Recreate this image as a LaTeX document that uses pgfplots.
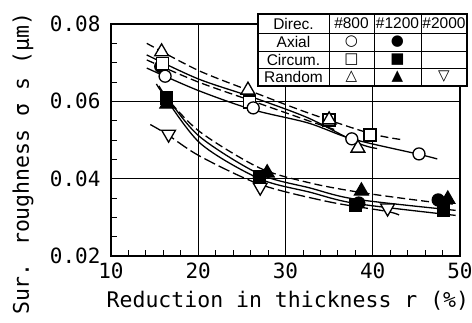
\documentclass[border=0pt]{standalone}
\usepackage{pgfplots}
\pgfplotsset{compat=1.18}
\usepackage{fontspec}
\setmainfont{DejaVu Sans Mono}
\newfontfamily\legfont{Liberation Sans}
\newfontfamily\symfont{DejaVu Sans}
\begin{document}
\begin{tikzpicture}
\begin{axis}[name=ax, width=349pt, height=232pt, scale only axis,
 xmin=10, xmax=50, ymin=0.02, ymax=0.08,
 xtick={10,20,30,40,50}, ytick={0.02,0.04,0.06,0.08},
 minor x tick num=4, minor y tick num=3,
 xtick pos=bottom, ytick pos=left,
 tick align=inside, major tick length=6pt, minor tick length=6pt,
 grid=major, major grid style={black, line width=0.8pt},
 axis line style={line width=1.3pt},
 every tick/.style={black, line width=0.8pt},
 scaled y ticks=false,
 yticklabel style={/pgf/number format/fixed, /pgf/number format/precision=2, /pgf/number format/fixed zerofill},
 /pgf/number format/assume math mode=true,
 tick label style={font=\fontsize{21}{24}\selectfont},
 xticklabel style={yshift=-3pt},
 yticklabel style={xshift=-7pt},
 label style={font=\fontsize{21.5}{24}\selectfont},
 xlabel={Reduction in thickness r (\%)},
 ylabel={Sur. roughness σ s (μm)},
 xlabel style={at={(axis description cs:0.507,-0.194)}, anchor=center},
 ylabel style={at={(axis description cs:-0.252,0.397)}, anchor=center},
 every axis plot/.append style={line width=1.3pt, black},
 clip=false,
]
% fitted curves, upper group
\addplot[dashed, dash pattern=on 8pt off 4pt, smooth] coordinates {(14.1,0.0750) (20,0.0680) (26.3,0.0624) (32.6,0.0570) (39.7,0.0517) (43.3,0.0501)};
\addplot[smooth] coordinates {(14.1,0.0720) (20,0.0658) (26.3,0.0610) (32.6,0.0557) (38.3,0.0492) (40.5,0.0478)};
\addplot[dashed, dash pattern=on 8pt off 4pt, smooth] coordinates {(14.1,0.0707) (20,0.0650) (26.3,0.0600) (32.6,0.0550) (36,0.0524)};
\addplot[smooth] coordinates {(14.1,0.0686) (20,0.0628) (26.3,0.0578) (32.6,0.0544) (37.6,0.0503) (45.3,0.0463) (47.4,0.0451)};
% fitted curves, lower group
\addplot[dashed, dash pattern=on 8pt off 4pt, smooth] coordinates {(15.2,0.0645) (16.4,0.0608) (20.2,0.0521) (27,0.0428) (32.8,0.0389) (38.7,0.0364) (46.6,0.0340) (49.5,0.0334)};
\addplot[smooth] coordinates {(15.5,0.0640) (16.4,0.0610) (20.2,0.0508) (27,0.0412) (32.8,0.0376) (38,0.0347) (49.5,0.0318)};
\addplot[smooth] coordinates {(15.8,0.0625) (20.2,0.0492) (27,0.0400) (32.8,0.0365) (38,0.0336) (49.5,0.0305)};
\addplot[dash pattern=on 12pt off 4pt, smooth] coordinates {(14.5,0.0540) (16.4,0.0515) (20.2,0.0458) (27.1,0.0385) (35,0.0340) (41.7,0.0315) (43.3,0.0303)};
% data points
\addplot[only marks, mark=*, mark size=6pt, mark options={fill=black}] coordinates {(15.7,0.0690) (27.0,0.0405) (38.4,0.0337) (47.5,0.0345)};
\addplot[only marks, mark=square*, mark size=6pt, mark options={fill=white}] coordinates {(15.9,0.0697) (25.9,0.0598) (35.0,0.0552) (39.7,0.0513)};
\addplot[only marks, mark=triangle*, mark size=8pt, mark options={fill=white}] coordinates {(15.8,0.0728) (25.7,0.0629) (35.0,0.0552) (38.3,0.0479)};
\addplot[only marks, mark=*, mark size=6pt, mark options={fill=white}] coordinates {(16.2,0.0665) (26.3,0.0583) (37.6,0.0503) (45.3,0.0464)};
\addplot[only marks, mark=square*, mark size=6pt, mark options={fill=black}] coordinates {(16.4,0.0609) (27.0,0.0405) (38.0,0.0330) (48.1,0.0319)};
\addplot[only marks, mark=triangle*, mark size=8pt, mark options={fill=black}] coordinates {(16.4,0.0593) (27.9,0.0415) (38.7,0.0368) (48.6,0.0347)};
\addplot[only marks, mark=triangle*, mark size=8pt, mark options={fill=white, rotate=180}] coordinates {(16.6,0.0515) (27.1,0.0378) (41.7,0.0324)};
\end{axis}
\begin{scope}[shift={(ax.south west)}, x=1pt, y=1pt]
 \fill[white] (147,170) rectangle (356,242);
 \draw[line width=0.8pt] (147,223) -- (356,223) (147,205) -- (356,205) (147,188) -- (356,188)
   (218,170) -- (218,242) (263,170) -- (263,242) (310,170) -- (310,242);
 \draw[line width=1.6pt] (147,170) rectangle (356,242);
 \begin{scope}[every node/.style={font=\legfont\fontsize{15.5}{17}\selectfont, inner sep=0pt}]
  \node at (182.5,232.5) {Direc.};
  \node at (240.5,232.5) {\#800};
  \node at (286.5,232.5) {\#1200};
  \node at (333,232.5) {\#2000};
  \node at (182.5,214) {Axial};
  \node at (182.5,196.5) {Circum.};
  \node at (182.5,179) {Random};
 \end{scope}
 \begin{scope}[every node/.style={font=\symfont\fontsize{15}{17}\selectfont, inner sep=0pt}]
  \node at (240.5,214) {○};
  \node at (286.5,214) {●};
  \node at (240.5,196.5) {□};
  \node at (286.5,196.5) {■};
  \node at (240.5,179) {△};
  \node at (286.5,179) {▲};
  \node at (333,179) {▽};
 \end{scope}
\end{scope}
\pgfresetboundingbox
\path[use as bounding box] ([xshift=-111pt,yshift=-67pt]ax.south west) rectangle ([xshift=12pt,yshift=24pt]ax.north east);
\end{tikzpicture}
\end{document}
